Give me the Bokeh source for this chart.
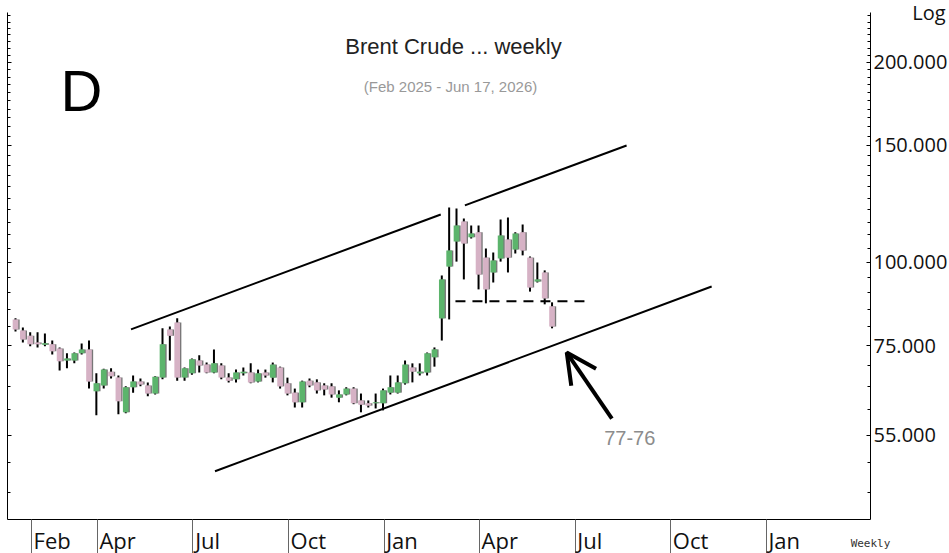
import pandas as pd
from bokeh.plotting import figure
from bokeh.models import (Range1d, FixedTicker, NumeralTickFormatter, LogAxis, Label,
                          ColumnDataSource, Arrow, OpenHead, DatetimeTickFormatter,
                          CustomLabelingPolicy)
from bokeh.embed import file_html
from bokeh.resources import INLINE

# ---------------- data ----------------
first_week = "2025-01-17"
opens = [82.1, 79.0, 77.6, 75.8, 75.2, 75.3, 74.2, 71.2, 71.2, 73.0,
         74.0, 64.0, 65.3, 68.5, 67.1, 59.5, 64.9, 66.2, 65.3, 63.5,
         67.1, 79.3, 81.2, 67.1, 68.1, 71.2, 70.2, 68.3, 70.0, 67.1,
         66.7, 68.1, 68.3, 66.2, 68.3, 67.1, 69.5, 65.8, 63.7, 61.6,
         66.4, 66.0, 65.3, 65.1, 62.6, 63.3, 64.6, 62.0, 61.4, 61.4,
         61.4, 63.7, 63.7, 65.8, 69.5, 68.1, 68.3, 72.0, 82.4, 98.6,
         107.5, 115.3, 109.1, 111.0, 101.7, 96.6, 101.4, 108.3, 104.6, 111.0,
         101.7, 93.6, 96.6, 85.9]
highs = [82.4, 79.8, 78.5, 78.5, 78.2, 76.3, 74.5, 73.0, 73.2, 75.5,
         76.3, 68.1, 69.2, 69.3, 67.6, 65.1, 67.6, 66.9, 66.0, 67.4,
         79.6, 80.1, 82.4, 69.5, 71.7, 72.5, 70.7, 74.0, 70.5, 68.1,
         69.0, 69.5, 70.5, 69.0, 69.0, 70.7, 69.7, 67.1, 64.6, 66.4,
         66.9, 66.7, 65.8, 65.8, 64.2, 64.9, 64.9, 63.5, 62.0, 63.5,
         64.6, 67.6, 67.6, 71.2, 70.5, 70.5, 73.2, 74.5, 95.6, 121.0,
         120.6, 116.5, 113.7, 113.7, 105.0, 103.5, 116.1, 116.9, 111.0, 114.1,
         102.1, 100.0, 97.3, 87.1]
lows = [78.7, 75.8, 74.8, 74.5, 74.8, 72.7, 68.8, 69.3, 70.5, 72.7,
        64.6, 58.9, 64.6, 66.9, 59.1, 59.3, 63.7, 65.1, 62.9, 63.3,
        66.7, 71.2, 66.4, 66.4, 67.8, 68.3, 68.1, 68.1, 66.7, 66.0,
        66.0, 67.6, 65.8, 66.0, 67.1, 66.0, 64.6, 63.1, 60.5, 60.5,
        64.9, 63.5, 63.1, 62.6, 61.6, 63.1, 61.2, 59.5, 60.5, 60.3,
        59.9, 63.3, 63.5, 65.5, 66.0, 67.6, 67.6, 69.7, 76.3, 82.1,
        100.3, 94.3, 108.7, 91.1, 86.8, 93.3, 100.3, 96.6, 103.2, 102.5,
        90.4, 93.3, 86.5, 79.6]
closes = [79.3, 76.6, 75.3, 75.3, 75.6, 73.5, 71.0, 71.7, 73.0, 74.0,
          66.2, 65.8, 69.0, 67.4, 61.8, 64.9, 66.2, 65.5, 63.5, 67.3,
          75.3, 77.6, 67.1, 69.3, 71.5, 70.0, 68.3, 70.5, 67.1, 66.4,
          68.3, 68.5, 66.0, 68.1, 67.6, 70.2, 65.1, 63.5, 61.6, 66.2,
          65.3, 64.2, 64.4, 63.3, 63.3, 64.6, 61.4, 61.1, 60.9, 61.6,
          64.2, 64.9, 66.0, 70.2, 68.5, 68.5, 73.0, 74.0, 94.3, 104.2,
          113.7, 106.8, 110.6, 95.9, 91.1, 100.7, 109.8, 101.7, 110.6, 104.2,
          91.7, 94.3, 88.3, 80.1]

tick_dates = ["2025-02-01", "2025-04-05", "2025-07-05", "2025-10-04", "2026-01-03",
              "2026-04-04", "2026-07-04", "2026-10-03", "2027-01-02"]
tick_labels = ["Feb", "Apr", "Jul", "Oct", "Jan", "Apr", "Jul", "Oct", "Jan"]
price_ticks = [55, 75, 100, 150, 200]
minor_price_ticks = [45, 50, 60, 65, 70, 80, 85, 90, 95, 105, 110, 115, 120, 125,
                     130, 135, 140, 145, 155, 160, 165, 170, 175, 180, 185, 190, 195,
                     205, 210, 215, 220, 225, 230, 235]

upper_a_dates = ["2025-05-07", "2026-02-26"]
upper_a_prices = [79.3, 118.1]
upper_b_dates = ["2026-03-21", "2026-08-22"]
upper_b_prices = [121.9, 150.0]
lower_dates = ["2025-07-26", "2026-11-11"]
lower_prices = [48.5, 92.0]
support_dates = ["2026-03-12", "2026-07-14"]
support_prices = [87.4, 87.4]
arrow_tail = ("2026-08-08", 58.2)
arrow_tip = ("2026-06-26", 73.2)
target_text = ("2026-08-25", 54.5, "77-76")

x_start, x_end = "2025-01-09 09:00", "2027-04-11 07:00"
y_start, y_end = 41.04, 237.8

UP = "#5cb46c"
DOWN = "#d6b2c5"

# ---------------- layout constants ----------------
W, H = 949, 553
B_LEFT, B_RIGHT, B_TOP, B_BOTTOM = 7, 79, 12, 34
MONTH_FONT_PX = 22
# Open Sans advance widths (em) used to place the month names just right of the separators
CHAR_EM = {"F": 0.547, "e": 0.561, "b": 0.613, "A": 0.633, "p": 0.613, "r": 0.408,
           "J": 0.281, "u": 0.613, "l": 0.258, "O": 0.781, "c": 0.478, "t": 0.361,
           "a": 0.556, "n": 0.614}


def ms(d):
    return pd.Timestamp(d).value / 1e6


DAY = 86400000.0
frame_px = W - B_LEFT - B_RIGHT
px_per_day = frame_px / ((ms(x_end) - ms(x_start)) / DAY)

dates = pd.date_range(first_week, periods=len(opens), freq="7D")
df = pd.DataFrame({"date": dates, "open": opens, "high": highs, "low": lows, "close": closes})
df["top"] = df[["open", "close"]].max(axis=1)
df["bottom"] = df[["open", "close"]].min(axis=1)
df["color"] = [UP if c >= o else DOWN for o, c in zip(df["open"], df["close"])]
df["shadow_x"] = df["date"] + pd.Timedelta(hours=30)
src = ColumnDataSource(df)

p = figure(width=W, height=H, x_axis_type="datetime", y_axis_type="log",
           y_axis_location="right",
           x_range=Range1d(ms(x_start), ms(x_end)), y_range=Range1d(y_start, y_end),
           output_backend="svg", toolbar_location=None,
           min_border_left=B_LEFT, min_border_right=B_RIGHT,
           min_border_top=B_TOP, min_border_bottom=B_BOTTOM)
p.outline_line_color = None
p.xgrid.visible = False
p.ygrid.visible = False
p.background_fill_color = "white"
p.border_fill_color = "white"

# right axis with "Log" caption at its top
ry = p.yaxis[0]
ry.ticker = FixedTicker(ticks=price_ticks, minor_ticks=minor_price_ticks)
ry.formatter = NumeralTickFormatter(format="0.000")
ry.major_label_text_font = "Open Sans"
ry.major_label_text_font_size = "20px"
ry.major_label_text_color = "#111111"
ry.major_label_standoff = 3
ry.major_tick_in = 4
ry.major_tick_out = 0
ry.minor_tick_in = 3
ry.minor_tick_out = 0
ry.axis_line_color = "black"
ry.major_tick_line_color = "black"
ry.minor_tick_line_color = "black"
ry.axis_label = "Log"
ry.axis_label_orientation = "horizontal"
ry.axis_label_align = "end"
ry.axis_label_standoff = -38
ry.axis_label_text_font = "Open Sans"
ry.axis_label_text_font_size = "20px"
ry.axis_label_text_font_style = "normal"
ry.axis_label_text_color = "#111111"

# left axis: ticks only
ly = LogAxis(ticker=FixedTicker(ticks=price_ticks, minor_ticks=minor_price_ticks),
             major_label_text_font_size="0px", major_label_standoff=0,
             major_label_policy=CustomLabelingPolicy(code="for (const i of indices) indices.unset(i)"),
             major_tick_in=4, major_tick_out=0, minor_tick_in=3, minor_tick_out=0,
             axis_line_color="black", major_tick_line_color="black",
             minor_tick_line_color="black")
p.add_layout(ly, "left")

# bottom axis: month separators as long minor ticks, month names just to their right
label_pos = []
for lab, d in zip(tick_labels, tick_dates):
    w = sum(CHAR_EM[c] for c in lab) * MONTH_FONT_PX
    label_pos.append(ms(d) + (2 + w / 2) / px_per_day * DAY)
bx = p.xaxis[0]
bx.ticker = FixedTicker(ticks=label_pos, minor_ticks=[ms(d) for d in tick_dates])
bx.formatter = DatetimeTickFormatter(days="%b", months="%b", years="%b")
bx.major_label_text_font = "Open Sans"
bx.major_label_text_font_size = f"{MONTH_FONT_PX}px"
bx.major_label_text_color = "#111111"
bx.major_label_standoff = -29
bx.major_tick_in = 0
bx.major_tick_out = 0
bx.major_tick_line_color = None
bx.minor_tick_in = 0
bx.minor_tick_out = B_BOTTOM
bx.minor_tick_line_color = "#666666"
bx.axis_line_color = "black"
bx.axis_label = "Weekly"
bx.axis_label_align = "end"
bx.axis_label_standoff = -21
bx.axis_label_text_font = "DejaVu Sans Mono"
bx.axis_label_text_font_size = "11px"
bx.axis_label_text_font_style = "normal"
bx.axis_label_text_color = "#333333"

# candles
p.segment(x0="date", y0="low", x1="date", y1="high", source=src,
          line_color="black", line_width=2)
p.vbar(x="shadow_x", top="top", bottom="bottom", width=5.4 * DAY, source=src,
       fill_color="#777777", line_color=None)
p.vbar(x="date", top="top", bottom="bottom", width=5.4 * DAY, source=src,
       fill_color="color", line_color=None)

# channel lines and support level
for xs, ys in [(upper_a_dates, upper_a_prices), (upper_b_dates, upper_b_prices),
               (lower_dates, lower_prices)]:
    p.line([ms(d) for d in xs], ys, line_color="black", line_width=2)
p.line([ms(d) for d in support_dates], support_prices, line_color="black",
       line_width=2, line_dash="10 7")

p.add_layout(Arrow(end=OpenHead(size=30, line_width=4, line_color="black"),
                   x_start=ms(arrow_tail[0]), y_start=arrow_tail[1],
                   x_end=ms(arrow_tip[0]), y_end=arrow_tip[1],
                   line_width=4, line_color="black"))
p.add_layout(Label(x=ms(target_text[0]), y=target_text[1], text=target_text[2],
                   text_align="center", text_baseline="middle",
                   text_font="Liberation Sans", text_font_size="20px",
                   text_color="#8c8c8c"))

# texts inside the frame (screen units measured from the frame's bottom-left)
p.add_layout(Label(x=446, y=473, x_units="screen", y_units="screen",
                   text="Brent Crude ... weekly", text_align="center", text_baseline="middle",
                   text_font="Liberation Sans", text_font_size="22px", text_color="#222222"))
p.add_layout(Label(x=443, y=433, x_units="screen", y_units="screen",
                   text="(Feb 2025 - Jun 17, 2026)", text_align="center", text_baseline="middle",
                   text_font="Liberation Sans", text_font_size="15px", text_color="#999999"))
p.add_layout(Label(x=74, y=429, x_units="screen", y_units="screen",
                   text="D", text_align="center", text_baseline="middle",
                   text_font="Liberation Sans", text_font_size="58px", text_color="black"))

open("out.html", "w").write(file_html(p, INLINE))
